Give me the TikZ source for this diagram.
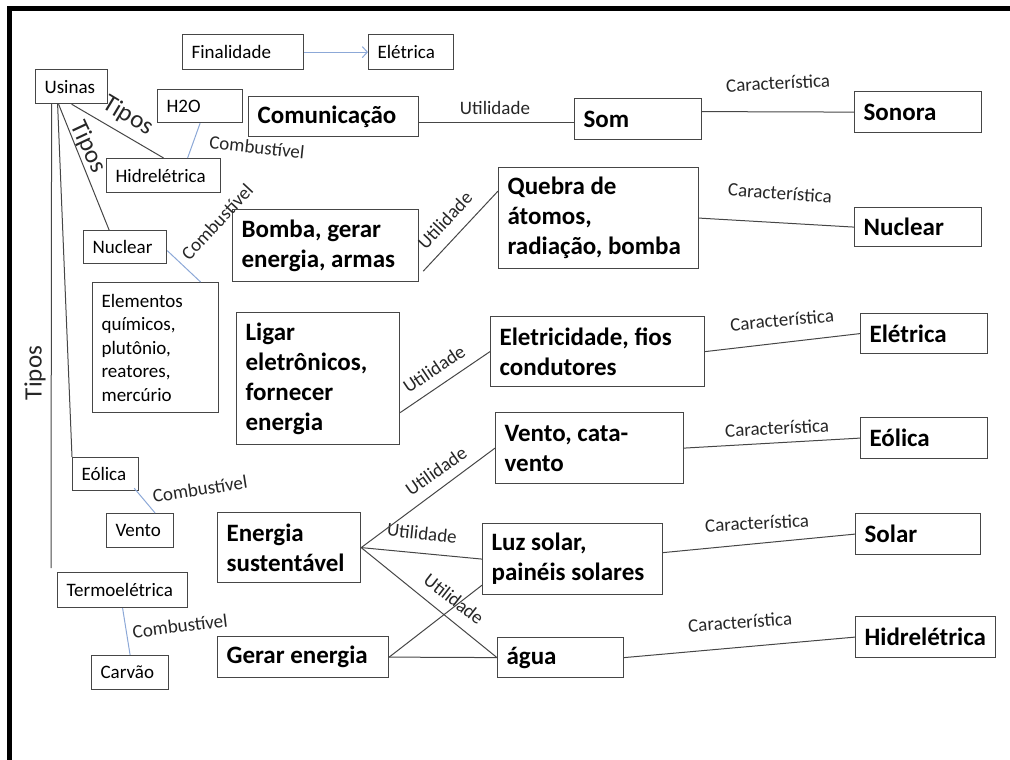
\documentclass[tikz,border=0pt]{standalone}
\usepackage{fontspec}
\setmainfont{Carlito}
\usetikzlibrary{arrows.meta}
\definecolor{edgegray}{RGB}{70,70,70}
\definecolor{fuelblue}{RGB}{140,168,215}
\newcommand{\smallfont}{\fontsize{19}{23.5}\selectfont}
\newcommand{\bigfont}{\fontsize{25}{30}\selectfont\bfseries}
\tikzset{
  cbox/.style 2 args = {draw=edgegray, line width=1.2pt, anchor=north west,
                        inner xsep=9pt, inner ysep=2pt, align=flush left,
                        text width=#1pt-18pt, minimum height=#2pt},
  smallbox/.style 2 args = {cbox={#1}{#2}, font=\smallfont},
  bigbox/.style 2 args   = {cbox={#1}{#2}, font=\bigfont},
  link/.style  = {-, edgegray, line width=1pt},
  fuel/.style  = {-, fuelblue, line width=1pt},
  lbl/.style   = {font=\smallfont, text=black!85, inner sep=0pt},
  tipo/.style  = {font=\fontsize{25}{30}\selectfont, text=black!85, inner sep=0pt},
}

\begin{document}
\begin{tikzpicture}[x=1pt, y=-1pt]
  \useasboundingbox (0,0) rectangle (1010,760);
  \draw[line width=5pt] (9.5,760) -- (9.5,9) -- (1010,9);

  % usinas e tipos
  \node[smallbox={121}{35}]  (fin)    at (182,34)  {Finalidade};
  \node[smallbox={85}{35}]   (ele)    at (368,34)  {Elétrica};
  \node[smallbox={72}{34}]   (usinas) at (35,69)   {Usinas};
  \node[smallbox={85}{33}]   (h2o)    at (157,89)  {H2O};
  \node[smallbox={114}{34}]  (hid)    at (106,158) {Hidrelétrica};
  \node[smallbox={83}{33}]   (nuc)    at (83,230)  {Nuclear};
  \node[smallbox={126}{130}] (elem)   at (92,282)  {Elementos\\químicos,\\plutônio,\\reatores,\\mercúrio};
  \node[smallbox={66}{33}]   (eol)    at (72,457)  {Eólica};
  \node[smallbox={67}{34}]   (vento)  at (106,513) {Vento};
  \node[smallbox={130}{35}]  (termo)  at (57,572)  {Termoelétrica};
  \node[smallbox={77}{34}]   (carvao) at (91,655)  {Carvão};

  % utilidades
  \node[bigbox={170}{40}]  (com)     at (248,96)  {Comunicação};
  \node[bigbox={186}{72}]  (bomba)   at (232,209) {Bomba, gerar\\energia, armas};
  \node[bigbox={163}{132}] (ligar)   at (236,312) {Ligar\\eletrônicos,\\fornecer\\energia};
  \node[bigbox={143}{70}]  (ensus)   at (217,512) {Energia\\sustentável};
  \node[bigbox={171}{41}]  (gerar)   at (217,636) {Gerar energia};

  \node[bigbox={127}{41}]  (som)     at (574,98)  {Som};
  \node[bigbox={200}{101}] (quebra)  at (498,167) {Quebra de\\átomos,\\radiação, bomba};
  \node[bigbox={214}{70}]  (eletric) at (490,316) {Eletricidade, fios\\condutores};
  \node[bigbox={188}{71}]  (ventoc)  at (495,412) {Vento, cata-\\vento};
  \node[bigbox={180}{71}]  (luz)     at (482,523) {Luz solar,\\painéis solares};
  \node[bigbox={126}{40}]  (agua)    at (497,637) {água};

  % características
  \node[bigbox={127}{41}]  (sonora)  at (854,91)  {Sonora};
  \node[bigbox={127}{39}]  (nucr)    at (854,207) {Nuclear};
  \node[bigbox={127}{40}]  (eletr)   at (860,313) {Elétrica};
  \node[bigbox={127}{41}]  (eolr)    at (860,417) {Eólica};
  \node[bigbox={125}{41}]  (solar)   at (855,513) {Solar};
  \node[bigbox={140}{41}]  (hidr)    at (855,616) {Hidrelétrica};

  % rótulos
  \node[tipo, rotate=-31] (tipos1) at (128,116) {Tipos};
  \node[tipo, rotate=-65] (tipos2) at (88,147)  {Tipos};
  \node[tipo, rotate=90]  (tipos3) at (35,373)  {Tipos};
  \node[lbl, rotate=-6]   (comb1)  at (257,147) {Combustível};
  \node[lbl, rotate=47]   (comb2)  at (217,222) {Combustível};
  \node[lbl, rotate=9]    (comb3)  at (200,489) {Combustível};
  \node[lbl, rotate=7]    (comb4)  at (180,626) {Combustível};
  \node[lbl]              (util1)  at (495,108) {Utilidade};
  \node[lbl, rotate=47]   (util2)  at (445,220) {Utilidade};
  \node[lbl, rotate=34]   (util3)  at (434,369) {Utilidade};
  \node[lbl, rotate=35]   (util4)  at (436,471) {Utilidade};
  \node[lbl, rotate=-6]   (util5)  at (422,533) {Utilidade};
  \node[lbl, rotate=-38]  (util6)  at (454,599) {Utilidade};
  \node[lbl, rotate=3]    (car1)   at (778,83)  {Característica};
  \node[lbl, rotate=-4]   (car2)   at (780,193) {Característica};
  \node[lbl, rotate=5]    (car3)   at (782,320) {Característica};
  \node[lbl, rotate=3]    (car4)   at (777,428) {Característica};
  \node[lbl, rotate=3]    (car5)   at (757,523) {Característica};
  \node[lbl, rotate=4]    (car6)   at (740,622) {Característica};

  \draw[fuel, -{Straight Barb[length=5pt, width=11pt]}] (fin) -- (ele);

  \draw[link] (usinas.south) -- (hid.north);
  \draw[link] ([xshift=-13pt]usinas.south) -- ([xshift=-16pt]nuc.north);
  \draw[link] ([xshift=-14pt]usinas.south) -- (eol.north west);
  \coordinate (tiposend) at (51,568);
  \draw[link] (tiposend) -- ([xshift=-20pt]usinas.south);

  \draw[fuel] (h2o.south) -- ([xshift=24pt]hid.north);
  \draw[fuel] ([yshift=-3.5pt]nuc.east) -- ([xshift=45pt]elem.north);
  \draw[fuel] ([xshift=-5pt, yshift=3pt]eol.south east) -- ([xshift=15pt]vento.north);
  \draw[fuel] (termo.south) -- (carvao.north);

  \draw[link] ([yshift=-6pt]com.east) -- ([yshift=-3.5pt]som.west);
  \draw[link] ([yshift=7.5pt]som.east) -- (sonora.west);
  \draw[link] ([xshift=4pt, yshift=11pt]bomba.south east) -- ([yshift=27pt]quebra.west);
  \draw[link] (quebra.east) -- (nucr.west);
  \draw[link] ([yshift=-34pt]ligar.east) -- (eletric.west);
  \draw[link] (eletric.east) -- (eletr.west);
  \draw[link] (ventoc.east) -- (eolr.west);
  \draw[link] (ensus.east) -- (ventoc.west);
  \draw[link] (ensus.east) -- (luz.west);
  \draw[link] (ensus.east) -- (agua.west);
  \draw[link] (gerar.east) -- ([yshift=10pt]luz.south west);
  \draw[link] (gerar.east) -- (agua.west);
  \draw[link] ([yshift=6.5pt]luz.east) -- (solar.west);
  \draw[link] (agua.east) -- (hidr.west);
\end{tikzpicture}
\end{document}
